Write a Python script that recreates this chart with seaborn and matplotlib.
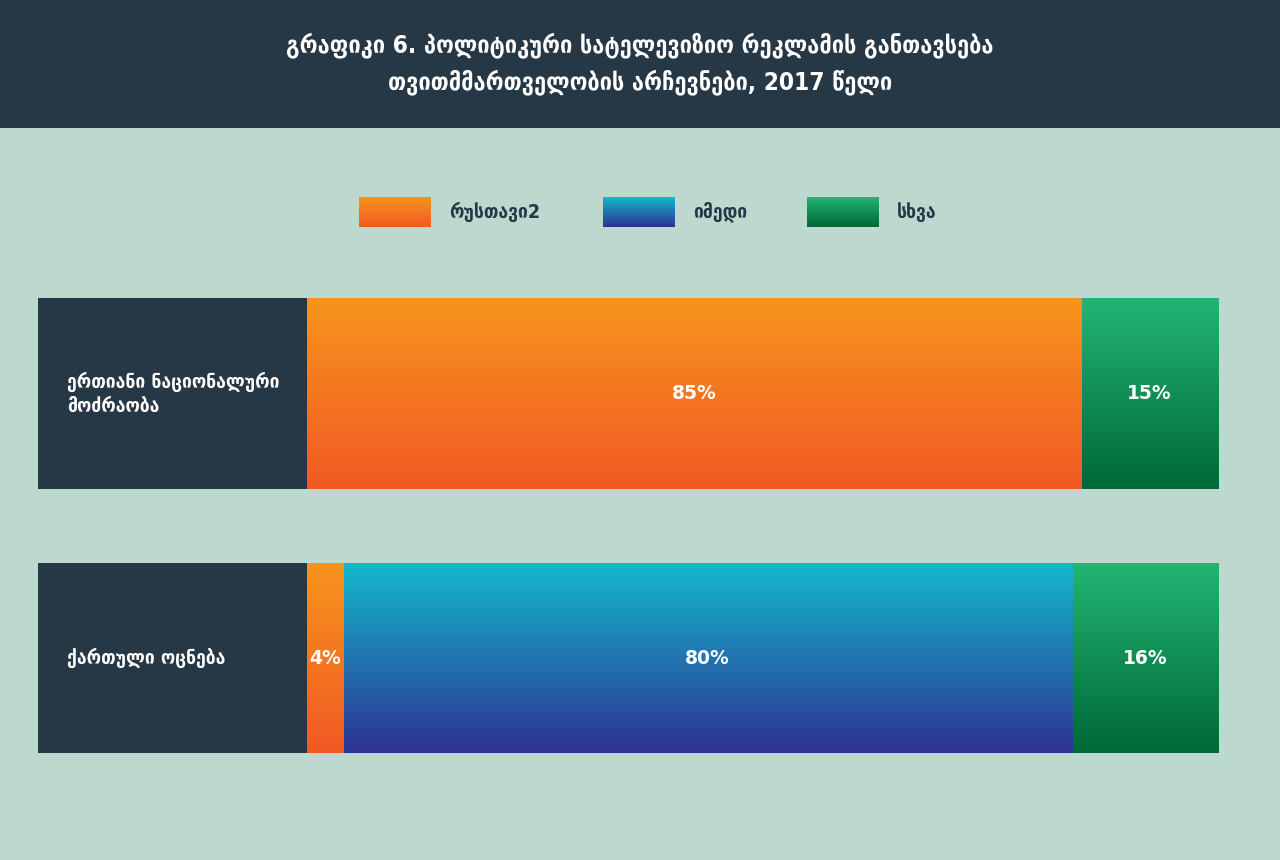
import matplotlib
matplotlib.use("Agg")
import matplotlib.pyplot as plt
from matplotlib.colors import LinearSegmentedColormap
from matplotlib.patches import Rectangle
import numpy as np
import pandas as pd
import seaborn as sns

# Data

categories = ["ერთიანი ნაციონალური\nმოძრაობა", "ქართული ოცნება"]
series_names = ["რუსთავი2", "იმედი", "სხვა"]
rustavi2 = [85, 4]
imedi = [0, 80]
skhva = [15, 16]

title_lines = "გრაფიკი 6. პოლიტიკური სატელევიზიო რეკლამის განთავსება\nთვითმმართველობის არჩევნები, 2017 წელი"

# Style

BG = "#bcd8cf"
DARK = "#263746"
GRADIENTS = [
    ("#f7941d", "#f15a24"),
    ("#14b9cd", "#2e3192"),
    ("#22b573", "#006837"),
]

W, H = 1280, 860
LABEL_W = 29.5  # width of the dark label block, in percent units

sns.set_theme(style="white")
plt.rcParams["font.family"] = ["DejaVu Sans"]

fig = plt.figure(figsize=(W / 100, H / 100), dpi=100, facecolor=BG)

# header band
fig.patches.append(Rectangle((0, 1 - 128 / H), 1, 128 / H, transform=fig.transFigure,
                             facecolor=DARK, edgecolor="none", zorder=0))
fig.text(0.5, 1 - 64 / H, title_lines, ha="center", va="center", color="white",
         fontsize=17.5, fontweight="bold", fontstretch="condensed", linespacing=1.55)

# main axes
ax = fig.add_axes([38 / W, 1 - 790.25 / H, 1180 / W, 529 / H])
ax.set_facecolor("none")

values = [rustavi2, imedi, skhva]
cum = np.cumsum(np.array(values), axis=0)

df = pd.DataFrame({"category": categories})
bar_width = 0.72
containers = {}
for k in reversed(range(len(series_names))):
    df["total"] = cum[k]
    sns.barplot(data=df, x="total", y="category", orient="h", ax=ax,
                width=bar_width, color=GRADIENTS[k][0], linewidth=0)
    containers[k] = ax.containers[-1]

# gradient fill clipped to each bar
for k, cont in containers.items():
    cmap = LinearSegmentedColormap.from_list(f"g{k}", GRADIENTS[k])
    grad = np.linspace(0, 1, 256).reshape(-1, 1)
    for rect in cont.patches:
        x0, y0 = rect.get_x(), rect.get_y()
        x1, y1 = x0 + rect.get_width(), y0 + rect.get_height()
        if x1 - x0 <= 0:
            continue
        im = ax.imshow(grad, cmap=cmap, aspect="auto", origin="upper",
                       extent=(x0, x1, y1, y0), zorder=2 + (2 - k) * 0.1)
        im.set_clip_path(rect)
        rect.set_facecolor("none")

# label blocks
for i, cat in enumerate(categories):
    ax.barh(i, LABEL_W, left=-LABEL_W, height=bar_width, color=DARK, linewidth=0, zorder=3)
    ax.text(-LABEL_W + 3.2, i, cat, ha="left", va="center", color="white",
            fontsize=14, fontweight="bold", fontstretch="condensed",
            linespacing=1.35, zorder=4)

# percent labels
for k in range(len(series_names)):
    for i, v in enumerate(values[k]):
        if v == 0:
            continue
        ax.text(cum[k][i] - v / 2, i, f"{v}%", ha="center", va="center",
                color="white", fontsize=13.5, fontweight="bold", zorder=5)

ax.set_xlim(-LABEL_W, 100)
ax.set_ylim(1.5, -0.5)
ax.set_xlabel("")
ax.set_ylabel("")
ax.set_xticks([])
ax.set_yticks([])
sns.despine(ax=ax, left=True, bottom=True)

# legend with gradient swatches
legend_x = [359, 603, 807]
for k, name in enumerate(series_names):
    cmap = LinearSegmentedColormap.from_list(f"l{k}", GRADIENTS[k])
    lax = fig.add_axes([legend_x[k] / W, 1 - 227 / H, 72 / W, 30 / H])
    lax.imshow(np.linspace(0, 1, 64).reshape(-1, 1), cmap=cmap, aspect="auto")
    lax.axis("off")
    fig.text((legend_x[k] + 90) / W, 1 - 212 / H, name, ha="left", va="center",
             color=DARK, fontsize=14, fontweight="bold", fontstretch="condensed")

fig.savefig("out.png", dpi=100, facecolor=BG)
